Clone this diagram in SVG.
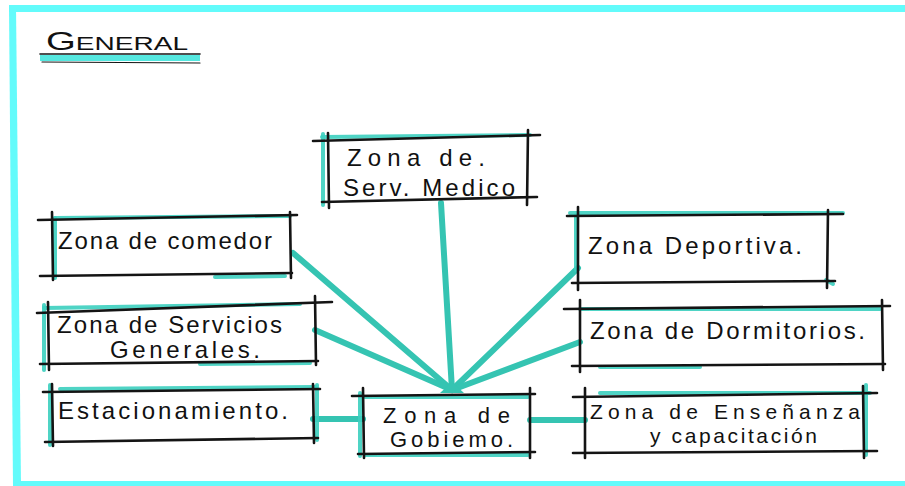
<svg xmlns="http://www.w3.org/2000/svg" width="905" height="486" viewBox="0 0 905 486">
<style>
.ink{stroke:#141414;stroke-width:2.6;stroke-linecap:round;fill:none}
.acc{stroke:#3ccfbf;stroke-width:4;stroke-linecap:round;fill:none;opacity:0.9}
.con{stroke:#35c4b2;stroke-width:6;stroke-linecap:round;fill:none}
.t{font-family:"Liberation Sans","DejaVu Sans",sans-serif;font-size:24px;fill:#111111}
.s{font-size:21px}
</style>
<rect x="0" y="0" width="905" height="486" fill="#ffffff"/>
<g id="frame">
<rect x="9" y="5" width="896" height="7" fill="#63fbfb"/>
<polygon points="9,5 16,5 21,486 13,486" fill="#63fbfb"/>
<rect x="13" y="481" width="892" height="5" fill="#63fbfb"/>
</g>
<g id="title">
<rect x="40" y="55" width="160" height="6" fill="#55e8e0"/>
<line class="ink" x1="40" y1="54" x2="200" y2="54" style="stroke-width:1.6"/>
<line class="ink" x1="42" y1="62" x2="200" y2="63" style="stroke-width:1.2"/>
<text class="t" x="46" y="50" textLength="142" lengthAdjust="spacingAndGlyphs"><tspan style="font-size:26px">G</tspan><tspan style="font-size:19px">ENERAL</tspan></text>
</g>
<g id="connectors">
<line class="con" x1="293" y1="253" x2="452" y2="390"/>
<line class="con" x1="315" y1="330" x2="452" y2="390"/>
<line class="con" x1="441" y1="203" x2="452" y2="390"/>
<line class="con" x1="578" y1="268" x2="452" y2="390"/>
<line class="con" x1="580" y1="342" x2="452" y2="390"/>
<polygon points="440,393 452,382 464,393" fill="#35c4b2"/>
<line class="con" x1="313" y1="419" x2="363" y2="419"/>
<line class="con" x1="530" y1="420" x2="585" y2="420"/>
</g>
<g id="medico">
<line class="acc" x1="323" y1="134" x2="323" y2="205"/>
<line class="acc" x1="322" y1="137" x2="530" y2="135"/>
<line class="ink" x1="313" y1="141" x2="540" y2="135"/>
<line class="ink" x1="322" y1="202" x2="537" y2="197"/>
<line class="ink" x1="328" y1="133" x2="329" y2="208"/>
<line class="ink" x1="528" y1="130" x2="527" y2="205"/>
<text class="t" x="347" y="166" textLength="138" lengthAdjust="spacing">Zona de.</text>
<text class="t" x="343" y="196" textLength="172" lengthAdjust="spacing">Serv. Medico</text>
</g>
<g id="comedor">
<line class="acc" x1="55" y1="218" x2="55" y2="278"/>
<line class="acc" x1="55" y1="218" x2="290" y2="216"/>
<line class="acc" x1="215" y1="277" x2="285" y2="276"/>
<line class="ink" x1="38" y1="220" x2="297" y2="215"/>
<line class="ink" x1="40" y1="276" x2="292" y2="273"/>
<line class="ink" x1="52" y1="212" x2="53" y2="280"/>
<line class="ink" x1="290" y1="212" x2="291" y2="278"/>
<text class="t" x="58" y="249" textLength="214" lengthAdjust="spacing">Zona de comedor</text>
</g>
<g id="deportiva">
<line class="acc" x1="576" y1="215" x2="576" y2="270"/>
<line class="acc" x1="570" y1="213" x2="843" y2="213"/>
<line class="acc" x1="826" y1="280" x2="833" y2="284"/>
<line class="ink" x1="567" y1="216" x2="843" y2="214"/>
<line class="ink" x1="572" y1="283" x2="835" y2="281"/>
<line class="ink" x1="578" y1="207" x2="578" y2="290"/>
<line class="ink" x1="828" y1="210" x2="827" y2="288"/>
<text class="t" x="588" y="254" textLength="214" lengthAdjust="spacing">Zona Deportiva.</text>
</g>
<g id="dormitorios">
<line class="acc" x1="580" y1="309" x2="880" y2="309"/>
<line class="acc" x1="600" y1="367" x2="700" y2="367"/>
<line class="ink" x1="564" y1="309" x2="890" y2="306"/>
<line class="ink" x1="572" y1="366" x2="885" y2="364"/>
<line class="ink" x1="580" y1="300" x2="580" y2="372"/>
<line class="ink" x1="882" y1="300" x2="883" y2="370"/>
<text class="t" x="590" y="339" textLength="275" lengthAdjust="spacing">Zona de Dormitorios.</text>
</g>
<g id="servicios">
<line class="acc" x1="44" y1="305" x2="44" y2="370"/>
<line class="acc" x1="44" y1="308" x2="300" y2="304"/>
<line class="acc" x1="200" y1="364" x2="310" y2="363"/>
<line class="ink" x1="37" y1="313" x2="332" y2="302"/>
<line class="ink" x1="40" y1="364" x2="318" y2="361"/>
<line class="ink" x1="48" y1="302" x2="49" y2="370"/>
<line class="ink" x1="315" y1="296" x2="316" y2="365"/>
<text class="t" x="57" y="333" textLength="225" lengthAdjust="spacing">Zona de Servicios</text>
<text class="t" x="110" y="358" textLength="150" lengthAdjust="spacing">Generales.</text>
</g>
<g id="estacionamiento">
<line class="acc" x1="50" y1="385" x2="50" y2="445"/>
<line class="acc" x1="60" y1="389" x2="316" y2="387"/>
<line class="acc" x1="317" y1="385" x2="317" y2="440"/>
<line class="ink" x1="43" y1="392" x2="320" y2="389"/>
<line class="ink" x1="45" y1="442" x2="318" y2="438"/>
<line class="ink" x1="52" y1="384" x2="53" y2="446"/>
<line class="ink" x1="313" y1="384" x2="314" y2="443"/>
<text class="t" x="58" y="419" textLength="230" lengthAdjust="spacing">Estacionamiento.</text>
</g>
<g id="gobierno">
<line class="acc" x1="360" y1="393" x2="360" y2="456"/>
<line class="acc" x1="365" y1="397" x2="528" y2="397"/>
<line class="acc" x1="365" y1="455" x2="528" y2="455"/>
<line class="ink" x1="352" y1="396" x2="535" y2="394"/>
<line class="ink" x1="358" y1="454" x2="535" y2="452"/>
<line class="ink" x1="363" y1="388" x2="364" y2="458"/>
<line class="ink" x1="530" y1="388" x2="530" y2="458"/>
<text class="t s" x="383" y="423" textLength="127" lengthAdjust="spacing" style="font-size:22px">Zona de</text>
<text class="t s" x="390" y="447" textLength="123" lengthAdjust="spacing" style="font-size:22px">Gobiemo.</text>
</g>
<g id="ensenanza">
<line class="acc" x1="866" y1="385" x2="866" y2="455"/>
<line class="acc" x1="600" y1="393" x2="870" y2="393"/>
<line class="ink" x1="573" y1="397" x2="877" y2="393"/>
<line class="ink" x1="573" y1="453" x2="877" y2="451"/>
<line class="ink" x1="585" y1="388" x2="585" y2="458"/>
<line class="ink" x1="863" y1="386" x2="864" y2="458"/>
<text class="t s" x="590" y="419" textLength="270" lengthAdjust="spacing">Zona de Enseñanza</text>
<text class="t s" x="650" y="443" textLength="167" lengthAdjust="spacing">y capacitación</text>
</g>
</svg>
